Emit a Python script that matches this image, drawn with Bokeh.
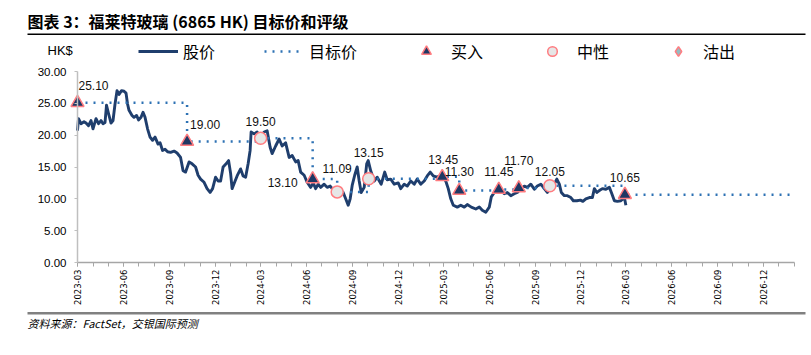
import pandas as pd
import math
from bokeh.plotting import figure
from bokeh.core.properties import value
from bokeh.models import (ColumnDataSource, FixedTicker, DatetimeTickFormatter, NumeralTickFormatter,
                          Label, LabelSet, Legend, LegendItem, BoxAnnotation, Range1d,
                          DatetimeAxis, LinearAxis)
from bokeh.embed import file_html
from bokeh.resources import INLINE

# ---------------- data ----------------
price_dates = [
    "2023-03-01", "2023-03-03", "2023-03-08", "2023-03-14", "2023-03-18", "2023-03-23", "2023-03-28",
    "2023-04-01", "2023-04-07", "2023-04-12", "2023-04-17", "2023-04-21", "2023-04-25", "2023-04-28",
    "2023-05-02", "2023-05-07", "2023-05-11", "2023-05-15", "2023-05-19", "2023-05-23", "2023-05-28",
    "2023-06-02", "2023-06-06", "2023-06-09", "2023-06-12", "2023-06-18", "2023-06-22", "2023-06-27",
    "2023-07-01", "2023-07-06", "2023-07-10", "2023-07-14", "2023-07-19", "2023-07-24", "2023-07-29",
    "2023-08-03", "2023-08-09", "2023-08-13", "2023-08-18", "2023-08-23", "2023-08-28",
    "2023-09-03", "2023-09-10", "2023-09-16", "2023-09-23", "2023-09-28",
    "2023-10-03", "2023-10-10", "2023-10-16", "2023-10-23", "2023-10-28",
    "2023-11-02", "2023-11-09", "2023-11-15", "2023-11-21", "2023-11-26",
    "2023-12-02", "2023-12-07", "2023-12-12", "2023-12-17", "2023-12-23", "2023-12-28",
    "2024-01-01", "2024-01-04", "2024-01-10", "2024-01-14", "2024-01-21", "2024-01-26", "2024-01-31",
    "2024-02-05", "2024-02-09", "2024-02-11", "2024-02-17", "2024-02-23",
    "2024-03-01", "2024-03-08", "2024-03-14", "2024-03-20", "2024-03-24", "2024-03-31",
    "2024-04-07", "2024-04-13", "2024-04-20", "2024-04-27",
    "2024-05-03", "2024-05-10", "2024-05-15", "2024-05-20", "2024-05-27",
    "2024-06-02", "2024-06-09", "2024-06-14", "2024-06-19", "2024-06-24", "2024-06-29",
    "2024-07-06", "2024-07-12", "2024-07-18", "2024-07-22", "2024-07-29",
    "2024-08-05", "2024-08-13", "2024-08-18", "2024-08-23", "2024-08-27", "2024-08-31",
    "2024-09-05", "2024-09-10", "2024-09-14", "2024-09-18", "2024-09-24", "2024-09-29",
    "2024-10-02", "2024-10-07", "2024-10-14", "2024-10-20", "2024-10-28",
    "2024-11-04", "2024-11-09", "2024-11-16", "2024-11-23",
    "2024-12-01", "2024-12-06", "2024-12-13", "2024-12-19", "2024-12-26",
    "2025-01-02", "2025-01-08", "2025-01-15", "2025-01-22", "2025-01-28",
    "2025-02-03", "2025-02-09", "2025-02-16", "2025-02-23", "2025-02-28",
    "2025-03-06", "2025-03-11", "2025-03-16", "2025-03-21", "2025-03-29",
    "2025-04-05", "2025-04-12", "2025-04-18", "2025-04-26",
    "2025-05-05", "2025-05-12", "2025-05-18", "2025-05-25",
    "2025-06-01", "2025-06-05", "2025-06-11", "2025-06-17", "2025-06-24",
    "2025-07-01", "2025-07-07", "2025-07-14", "2025-07-21", "2025-07-27",
    "2025-08-03", "2025-08-10", "2025-08-16", "2025-08-23", "2025-08-30",
    "2025-09-05", "2025-09-12", "2025-09-19", "2025-09-25",
    "2025-10-01", "2025-10-09", "2025-10-14", "2025-10-19", "2025-10-23", "2025-10-29",
    "2025-11-04", "2025-11-11", "2025-11-16", "2025-11-23", "2025-11-30",
    "2025-12-05", "2025-12-11", "2025-12-18", "2025-12-24", "2025-12-28",
    "2026-01-02", "2026-01-07", "2026-01-13", "2026-01-20", "2026-01-27", "2026-01-31",
    "2026-02-06", "2026-02-12", "2026-02-19", "2026-02-26", "2026-03-01",
]
price_values = [
    20.7, 22.6, 21.8, 22.1, 21.9, 21.5, 22.3,
    21.0, 22.6, 21.8, 22.3, 21.8, 22.0, 24.7,
    23.4, 21.9, 22.3, 24.9, 27.0, 26.4, 27.0,
    26.9, 26.6, 24.9, 23.9, 23.1, 22.8, 23.1,
    22.4, 22.8, 23.6, 22.8, 21.0, 19.7, 19.2,
    19.7, 18.6, 18.8, 17.6, 17.8, 17.4,
    17.3, 17.5, 17.2, 16.5, 14.4,
    14.2, 15.8, 15.5, 15.0, 13.7,
    13.1, 12.6, 11.6, 11.0, 11.6,
    13.4, 12.8, 12.8, 15.0, 15.5, 16.0,
    14.0, 11.6, 12.8, 13.6, 14.7, 13.6, 13.4,
    15.5, 17.6, 20.5, 20.2, 20.5,
    19.6, 20.5, 20.7, 18.1, 17.1, 18.3,
    19.4, 18.3, 18.8, 16.5,
    16.8, 15.8, 16.0, 14.2, 13.7,
    12.6, 11.8, 12.5, 11.6, 12.3, 11.8,
    12.3, 11.8, 12.0, 11.6, 11.0,
    11.2, 11.0, 10.0, 9.0, 10.0, 12.1,
    13.7, 15.0, 12.8, 11.0, 11.8, 15.5,
    16.0, 14.4, 12.8, 13.4, 12.3,
    14.2, 13.0, 13.1, 12.3,
    12.5, 11.6, 12.3, 12.0, 12.8,
    12.3, 13.1, 12.3, 12.8, 13.6,
    14.2, 13.6, 13.4, 13.6, 13.4,
    12.8, 11.6, 10.0, 9.0, 8.7,
    9.0, 8.7, 9.1, 8.7,
    8.4, 8.7, 8.2, 7.9,
    8.7, 10.3, 11.0, 11.6, 11.3,
    10.8, 11.0, 10.5, 10.8, 11.0,
    11.6, 12.0, 11.8, 12.3, 11.5,
    12.0, 12.3, 11.6, 11.0,
    11.8, 12.3, 13.1, 12.3, 11.0, 10.5,
    10.5, 10.2, 9.7, 9.7, 9.8,
    9.6, 10.0, 10.2, 10.2, 11.6,
    11.0, 11.3, 11.6, 11.5, 11.8, 11.0,
    9.7, 9.6, 9.7, 10.2, 9.0,
]

target_dates = ["2023-03-01", "2023-10-06", "2024-03-01", "2024-06-13", "2024-08-01", "2024-10-03",
                "2025-02-27", "2025-04-02", "2025-06-20", "2025-07-30", "2025-09-30", "2026-02-27"]
target_values = [25.10, 19.00, 19.50, 13.10, 11.09, 13.15, 13.45, 11.30, 11.45, 11.70, 12.05, 10.65]
ratings = ["买入", "买入", "中性", "买入", "中性", "中性", "买入", "买入", "买入", "买入", "中性", "买入"]
target_end_date = "2027-01-25"

x_tick_labels = ["2023-03", "2023-06", "2023-09", "2023-12", "2024-03", "2024-06", "2024-09", "2024-12",
                 "2025-03", "2025-06", "2025-09", "2025-12", "2026-03", "2026-06", "2026-09", "2026-12"]
y_ticks = [0, 5, 10, 15, 20, 25, 30]

# label placement (screen px offsets of each target-price label from its marker)
label_dx = [16, 18, 0, -30, 0, 0, 1, 0, 0, 0, 0, 0]
label_dy = [17, 17, 17, -3, 23, 26, 17, 19, 18, 28, 14, 17]

# ---------------- layout / styling ----------------
W, H = 811, 355
PLOT_L, PLOT_R, PLOT_T, PLOT_B = 77, 794, 71, 262   # plot box in canvas pixels
X0, X1 = "2023-03-01", "2027-02-01"
Y0, Y1 = 0, 30

PRICE_COLOR = "#1f3e6d"
TARGET_COLOR = "#2e72b4"
PINK = "#ff7c80"
FONT_NUM = "Liberation Sans"
FONT_CJK = "Noto Sans CJK SC"


def ms(s):
    return pd.Timestamp(s).timestamp() * 1000.0


# ranges chosen so that the axis box lands at the reference pixel positions, the frame fills the canvas
ms_per_px = (ms(X1) - ms(X0)) / (PLOT_R - PLOT_L)
u_per_px = (Y1 - Y0) / (PLOT_B - PLOT_T)
x_range = Range1d(ms(X0) - PLOT_L * ms_per_px, ms(X1) + (W - PLOT_R) * ms_per_px)
y_range = Range1d(Y0 - (H - PLOT_B) * u_per_px, Y1 + PLOT_T * u_per_px)


def sy(canvas_y):  # canvas y (from top) -> screen y from bottom of frame
    return H - canvas_y


price_src = ColumnDataSource(dict(x=pd.to_datetime(price_dates), y=price_values))

step_x = pd.to_datetime(target_dates + [target_end_date])
step_y = target_values + [target_values[-1]]
step_src = ColumnDataSource(dict(x=step_x, y=step_y))

ev = pd.DataFrame(dict(x=pd.to_datetime(target_dates), y=target_values, r=ratings,
                       t=[f"{v:.2f}" for v in target_values], dx=label_dx, dy=label_dy))
buy_src = ColumnDataSource(ev[ev.r == "买入"])
neu_src = ColumnDataSource(ev[ev.r == "中性"])
sell_ev = ev[ev.r == "沽出"]
if len(sell_ev) == 0:
    # no sell rating in the history: a single empty (NaN) entry keeps the legend swatch drawable
    sell_src = ColumnDataSource(dict(x=[float("nan")], y=[float("nan")]))
else:
    sell_src = ColumnDataSource(sell_ev)
lab_src = ColumnDataSource(ev)

p = figure(width=W, height=H, output_backend="svg", toolbar_location=None,
           x_range=x_range, y_range=y_range, x_axis_location=None, y_axis_location=None,
           min_border=0)
p.grid.visible = False
p.outline_line_color = None
p.background_fill_color = "white"
p.border_fill_color = "white"

r_price = p.line("x", "y", source=price_src, line_color=PRICE_COLOR, line_width=2.9, line_join="round")
r_target = p.step("x", "y", source=step_src, mode="after", line_color=TARGET_COLOR, line_width=2.5,
                  line_dash="2 6")
r_buy = p.scatter("x", "y", source=buy_src, marker="triangle", size=13, fill_color="#1f3864",
                  line_color=PINK, line_width=1.5)
r_neu = p.scatter("x", "y", source=neu_src, marker="circle", size=12, fill_color="#e6e6e6",
                  line_color=PINK, line_width=1.5)
r_sell = p.scatter("x", "y", source=sell_src, marker="diamond", size=13, fill_color="#93bcc2",
                   line_color=PINK, line_width=1.5)

labels = LabelSet(x="x", y="y", text="t", x_offset="dx", y_offset="dy", source=lab_src,
                  text_align="center", text_baseline="middle", text_font=value(FONT_NUM),
                  text_font_size=value("12px"), text_color="#111111")
p.add_layout(labels)

# axes (drawn at fixed data locations inside the canvas-filling frame)
fmt = "%Y-%m"
xa = DatetimeAxis(
    fixed_location=Y0, bounds=(ms(X0), ms(X1)),
    ticker=FixedTicker(ticks=[ms(s + "-01") for s in x_tick_labels],
                       minor_ticks=[d.timestamp() * 1000.0 for d in pd.date_range(X0, X1, freq="MS")]),
    formatter=DatetimeTickFormatter(milliseconds=fmt, seconds=fmt, minsec=fmt, minutes=fmt, hourmin=fmt,
                                    hours=fmt, days=fmt, months=fmt, years=fmt),
    major_label_orientation=math.pi / 2, major_label_text_font="DejaVu Sans",
    major_label_text_font_size="8.5px", major_label_text_color="#000000", major_label_standoff=3,
    axis_line_color="#a6a6a6", axis_line_width=1.5, major_tick_line_color="#a6a6a6",
    minor_tick_line_color="#a6a6a6", major_tick_out=4, major_tick_in=0, minor_tick_out=4, minor_tick_in=0)
p.add_layout(xa, "below")

ya = LinearAxis(
    fixed_location=ms(X0), bounds=(Y0, Y1),
    ticker=FixedTicker(ticks=y_ticks, minor_ticks=[]),
    formatter=NumeralTickFormatter(format="0.00"),
    major_label_text_font=FONT_NUM, major_label_text_font_size="11.5px", major_label_text_color="#000000",
    major_label_standoff=8, axis_line_color="#bfbfbf", axis_line_width=1.5,
    major_tick_line_color="#bfbfbf", major_tick_out=3, major_tick_in=0)
p.add_layout(ya, "left")

# legend
legend = Legend(items=[LegendItem(label="股价", renderers=[r_price]),
                       LegendItem(label="目标价", renderers=[r_target]),
                       LegendItem(label="买入", renderers=[r_buy]),
                       LegendItem(label="中性", renderers=[r_neu]),
                       LegendItem(label="沽出", renderers=[r_sell])],
                orientation="horizontal", location=(138, sy(63)), glyph_width=40, glyph_height=24,
                label_standoff=5, spacing=49, padding=0, margin=0, border_line_alpha=0,
                background_fill_alpha=0, label_text_font=FONT_CJK, label_text_font_size="16px",
                label_text_color="#000000")
p.add_layout(legend)

# title, unit, source
p.add_layout(Label(x=27, y=sy(20), x_units="screen", y_units="screen",
                   text="图表 3：福莱特玻璃 (6865 HK) 目标价和评级", text_font=FONT_CJK,
                   text_font_style="bold", text_font_size="16px", text_baseline="middle",
                   text_align="left", text_color="#000000"))
p.add_layout(Label(x=47, y=sy(50), x_units="screen", y_units="screen", text="HK$", text_font=FONT_NUM,
                   text_font_size="13px", text_baseline="middle", text_align="left", text_color="#000000"))
p.add_layout(Label(x=27, y=sy(322), x_units="screen", y_units="screen", text="资料来源：FactSet，交银国际预测",
                   text_font=FONT_CJK, text_font_style="italic", text_font_size="11px",
                   text_baseline="middle", text_align="left", text_color="#000000"))

p.add_layout(BoxAnnotation(left=27, right=805, top=sy(33), bottom=sy(34.5), left_units="screen",
                           right_units="screen", top_units="screen", bottom_units="screen",
                           fill_color="#000000", fill_alpha=1, line_color=None))
p.add_layout(BoxAnnotation(left=27, right=805, top=sy(311.5), bottom=sy(314), left_units="screen",
                           right_units="screen", top_units="screen", bottom_units="screen",
                           fill_color="#808080", fill_alpha=1, line_color=None))

open("out.html", "w").write(file_html(p, INLINE))
